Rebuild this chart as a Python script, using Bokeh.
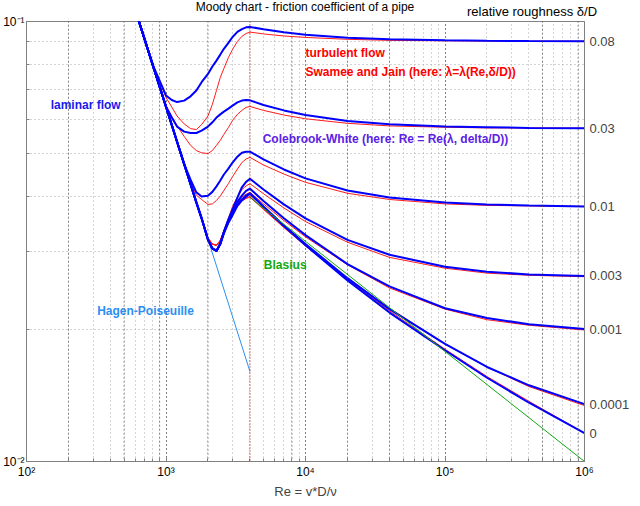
from bokeh.plotting import figure
from bokeh.models import Range1d, LogAxis, FixedTicker, Span, Div
from bokeh.layouts import column
from bokeh.embed import file_html
from bokeh.resources import INLINE
from bokeh.core.properties import value

# ---------------- data ----------------
re_grid = [600, 800, 1000, 1100, 1200, 1350, 1500, 1650, 1800, 2000, 2150, 2300, 2450, 2600,
           2800, 3000, 3250, 3500, 3750, 4000, 5000, 7000, 1e4, 2e4, 4e4, 1e5, 2e5, 4e5, 1e6]

# blue curves
blue_008 = [0.1067, 0.0800, 0.0679, 0.0663, 0.0656, 0.0661, 0.0676, 0.0697, 0.0728, 0.0760,
            0.0790, 0.0815, 0.0841, 0.0867, 0.0894, 0.0922, 0.0947, 0.0961, 0.0970,
            0.0972, 0.0960, 0.0945, 0.0933, 0.0918, 0.0911, 0.0906, 0.0904, 0.0903, 0.0902]
blue_003 = [0.1067, 0.0800, 0.0640, 0.0605, 0.0577, 0.0562, 0.0558, 0.0558, 0.0565, 0.0577,
            0.0590, 0.0605, 0.0615, 0.0624, 0.0634, 0.0644, 0.0655, 0.0661, 0.0663,
            0.0662, 0.0646, 0.0628, 0.0613, 0.0594, 0.0584, 0.0577, 0.0575, 0.0573, 0.0572]
blue_001 = [0.1067, 0.0800, 0.0640, 0.0582, 0.0533, 0.0474, 0.0437, 0.0409, 0.0400, 0.0402,
            0.0410, 0.0422, 0.0435, 0.0449, 0.0463, 0.0478, 0.0493, 0.0503, 0.0506,
            0.0506, 0.0486, 0.0461, 0.0440, 0.0413, 0.0398, 0.0388, 0.0384, 0.0382, 0.0380]
blue_0003 = [0.1067, 0.0800, 0.0640, 0.0582, 0.0533, 0.0474, 0.0427, 0.0388, 0.0357, 0.0319,
             0.0305, 0.0301, 0.0313, 0.0333, 0.0355, 0.0374, 0.0398, 0.0420, 0.0432,
             0.0439, 0.0415, 0.0384, 0.0357, 0.0319, 0.0295, 0.0277, 0.0270, 0.0266, 0.0264]
blue_0001 = [0.1067, 0.0800, 0.0640, 0.0582, 0.0533, 0.0474, 0.0427, 0.0388, 0.0357, 0.0319,
             0.0305, 0.0301, 0.0313, 0.0332, 0.0352, 0.0368, 0.0389, 0.0402, 0.0412,
             0.0417, 0.0391, 0.0357, 0.0327, 0.0281, 0.0250, 0.0223, 0.0212, 0.0205, 0.0200]
blue_00001 = [0.1067, 0.0800, 0.0640, 0.0582, 0.0533, 0.0474, 0.0427, 0.0388, 0.0357, 0.0319,
              0.0305, 0.0301, 0.0312, 0.0331, 0.0350, 0.0364, 0.0383, 0.0394, 0.0402,
              0.0407, 0.0380, 0.0344, 0.0312, 0.0261, 0.0222, 0.0185, 0.0164, 0.0149, 0.0135]
blue_0 = [0.1067, 0.0800, 0.0640, 0.0582, 0.0533, 0.0474, 0.0427, 0.0388, 0.0357, 0.0319,
          0.0305, 0.0301, 0.0312, 0.0330, 0.0349, 0.0363, 0.0381, 0.0392, 0.0400,
          0.0406, 0.0379, 0.0343, 0.0310, 0.0258, 0.0218, 0.0179, 0.0155, 0.0136, 0.0116]

# red curves
red_008 = [0.1067, 0.0800, 0.0672, 0.0639, 0.0610, 0.0585, 0.0571, 0.0568, 0.0583, 0.0610,
           0.0648, 0.0697, 0.0746, 0.0782, 0.0828, 0.0864, 0.0901, 0.0925, 0.0939,
           0.0946, 0.0937, 0.0927, 0.0920, 0.0911, 0.0906, 0.0904, 0.0903, 0.0902, 0.0902]
red_003 = [0.1067, 0.0800, 0.0645, 0.0608, 0.0580, 0.0548, 0.0523, 0.0509, 0.0503, 0.0501,
           0.0509, 0.0523, 0.0537, 0.0554, 0.0574, 0.0596, 0.0615, 0.0628, 0.0638,
           0.0641, 0.0628, 0.0613, 0.0601, 0.0587, 0.0579, 0.0575, 0.0573, 0.0573, 0.0572]
red_001 = [0.1067, 0.0800, 0.0640, 0.0582, 0.0533, 0.0474, 0.0431, 0.0403, 0.0394, 0.0384,
           0.0385, 0.0392, 0.0401, 0.0413, 0.0428, 0.0444, 0.0462, 0.0478, 0.0487,
           0.0491, 0.0472, 0.0450, 0.0431, 0.0407, 0.0394, 0.0385, 0.0382, 0.0381, 0.0380]
red_0003 = [0.1067, 0.0800, 0.0640, 0.0582, 0.0533, 0.0474, 0.0427, 0.0388, 0.0357, 0.0322,
            0.0312, 0.0310, 0.0318, 0.0335, 0.0357, 0.0380, 0.0399, 0.0415, 0.0423,
            0.0428, 0.0406, 0.0377, 0.0351, 0.0315, 0.0291, 0.0275, 0.0268, 0.0265, 0.0263]
red_0001 = [0.1067, 0.0800, 0.0640, 0.0582, 0.0533, 0.0474, 0.0427, 0.0388, 0.0357, 0.0322,
            0.0312, 0.0310, 0.0318, 0.0334, 0.0353, 0.0370, 0.0387, 0.0399, 0.0405,
            0.0409, 0.0385, 0.0353, 0.0324, 0.0280, 0.0248, 0.0222, 0.0210, 0.0204, 0.0199]
red_00001 = [0.1067, 0.0800, 0.0640, 0.0582, 0.0533, 0.0474, 0.0427, 0.0388, 0.0357, 0.0322,
             0.0312, 0.0310, 0.0318, 0.0333, 0.0351, 0.0366, 0.0381, 0.0392, 0.0397,
             0.0400, 0.0375, 0.0342, 0.0311, 0.0261, 0.0223, 0.0185, 0.0164, 0.0148, 0.0134]
red_0 = [0.1067, 0.0800, 0.0640, 0.0582, 0.0533, 0.0474, 0.0427, 0.0388, 0.0357, 0.0322,
         0.0312, 0.0310, 0.0318, 0.0333, 0.0350, 0.0365, 0.0380, 0.0391, 0.0396,
         0.0399, 0.0374, 0.0340, 0.0309, 0.0259, 0.0220, 0.0180, 0.0156, 0.0137, 0.0116]

re_hp = [600, 4000]
lam_hp = [0.1067, 0.0160]
re_blasius = [4000, 1e6]
lam_blasius = [0.0398, 0.0100]

roughness_labels = ["0.08", "0.03", "0.01", "0.003", "0.001", "0.0001", "0"]
blue_curves = [blue_008, blue_003, blue_001, blue_0003, blue_0001, blue_00001, blue_0]
red_curves = [red_008, red_003, red_001, red_0003, red_0001, red_00001, red_0]

x_tick_values = [100, 1000, 1e4, 1e5, 1e6]
x_tick_labels = ["10\u00b2", "10\u00b3", "10\u2074", "10\u2075", "10\u2076"]
y_tick_values = [0.01, 0.1]
y_tick_labels = ["10\u207b\u00b2", "10\u207b\u00b9"]

ann_text = ["laminar flow", "turbulent flow", "Swamee and Jain (here: \u03bb=\u03bb(Re,\u03b4/D))",
            "Colebrook-White (here: Re = Re(\u03bb, delta/D))", "Blasius", "Hagen-Poiseuille"]
ann_re = [149, 10000, 10000, 4930, 5030, 321]
ann_lam = [0.0647, 0.0847, 0.0767, 0.0541, 0.0280, 0.0220]
ann_color = ["#1a1af0", "#ff0000", "#ff0000", "#5b22e6", "#10a810", "#2b8ff2"]

title_text = "Moody chart - friction coefficient of a pipe"
roughness_title = "relative roughness \u03b4/D"

dark_grid_re = [200, 500, 900, 2000, 8000, 2e4, 4e4, 5e5, 9e5]
transition_re = 4000

FONT = "Liberation Sans"

header = Div(
    text=(
        '<div style="position:relative;width:640px;height:13px;overflow:visible;'
        'font-family:\'Liberation Sans\',Arial,sans-serif;color:#000;">'
        '<span style="position:absolute;left:0;top:0px;width:610px;text-align:center;'
        'font-size:12px;line-height:14px;white-space:nowrap;">' + title_text + '</span>'
        '<span style="position:absolute;left:467px;top:4px;font-size:13px;line-height:15px;'
        'white-space:nowrap;">' + roughness_title + '</span></div>'
    ),
    width=640, height=13, margin=0,
    stylesheets=[":host { overflow: visible !important; z-index: 5; } "
                 "div { overflow: visible !important; }"],
)

p = figure(width=640, height=489, x_axis_type="log", y_axis_type="log",
           x_range=Range1d(100, 1e6), y_range=Range1d(0.01, 0.1),
           output_backend="svg", toolbar_location=None, title=None,
           min_border_left=25, min_border_right=56, min_border_top=8, min_border_bottom=41,
           margin=0)

p.outline_line_color = "#808080"
p.border_fill_color = None

minor_x = [m * 10 ** k for k in range(2, 6) for m in range(2, 10)]
minor_y = [m / 100 for m in range(2, 10)]
p.xaxis.ticker = FixedTicker(ticks=x_tick_values, minor_ticks=minor_x)
p.yaxis.ticker = FixedTicker(ticks=y_tick_values, minor_ticks=minor_y)
p.xaxis.major_label_overrides = dict(zip(x_tick_values, x_tick_labels))
p.yaxis.major_label_overrides = dict(zip(y_tick_values, y_tick_labels))

for ax in (p.xaxis[0], p.yaxis[0]):
    ax.axis_line_color = "#808080"
    ax.major_tick_line_color = "#808080"
    ax.minor_tick_line_color = "#808080"
    ax.major_tick_in = 5
    ax.major_tick_out = 0
    ax.minor_tick_in = 3
    ax.minor_tick_out = 0
    ax.major_label_text_font = FONT
    ax.major_label_text_font_size = "12px"
    ax.major_label_text_color = "black"
p.yaxis.major_label_standoff = 2
p.yaxis.axis_label_standoff = 0
p.xaxis.major_label_standoff = 3
p.xaxis.axis_label = "Re = v*D/\u03bd"
p.xaxis.axis_label_text_font = FONT
p.xaxis.axis_label_text_font_size = "13px"
p.xaxis.axis_label_text_font_style = "normal"
p.xaxis.axis_label_standoff = 2

for g in (p.xgrid[0], p.ygrid[0]):
    g.grid_line_color = "#000000"
    g.grid_line_dash = "1 3"
    g.grid_line_width = 1
    g.minor_grid_line_color = "#a8a8a8"
    g.minor_grid_line_dash = "1 3"
    g.minor_grid_line_width = 1

for r in dark_grid_re:
    p.add_layout(Span(location=r, dimension="height", line_color="#404040",
                      line_dash="1 3", line_width=1))
p.add_layout(Span(location=transition_re, dimension="height", line_color="#990000",
                  line_dash="1 2", line_width=1))

ends = [c[-1] for c in blue_curves]
rax = LogAxis(ticker=FixedTicker(ticks=ends, minor_ticks=[]),
              major_label_overrides=dict(zip(ends, roughness_labels)))
rax.axis_line_color = "#808080"
rax.major_tick_line_color = None
rax.minor_tick_line_color = None
rax.major_tick_out = 0
rax.major_tick_in = 0
rax.major_label_text_font = FONT
rax.major_label_text_font_size = "13px"
rax.major_label_standoff = 5
rax.axis_label_standoff = 0
p.add_layout(rax, "right")

p.line(re_hp, lam_hp, line_color="#2b8ff2", line_width=1)
for c in red_curves:
    p.line(re_grid, c, line_color="#ff1a1a", line_width=1)
for c in blue_curves:
    p.line(re_grid, c, line_color="#0000ff", line_width=2)
p.line(re_blasius, lam_blasius, line_color="#10a810", line_width=1)

p.text(x=ann_re, y=ann_lam, text=ann_text, text_color=ann_color,
       text_font=value(FONT), text_font_style="bold", text_font_size="12px",
       text_baseline="middle", text_align="left")

layout = column(header, p, spacing=0, margin=0)
open("out.html", "w").write(file_html(layout, INLINE))
